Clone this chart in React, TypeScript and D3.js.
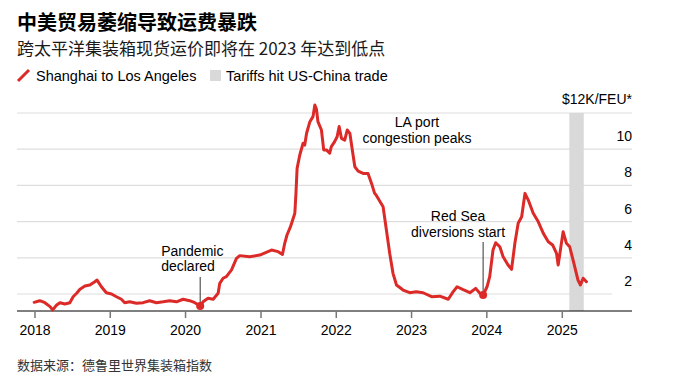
import React from "react";
import * as d3 from "d3";

// Drewry WCI Shanghai -> Los Angeles, $K per 40ft container
const weeks = [
  "2017-12-28", "2018-01-24", "2018-02-18", "2018-03-15", "2018-03-28", "2018-04-16",
  "2018-05-02", "2018-05-26", "2018-06-19", "2018-07-05", "2018-07-22", "2018-08-07",
  "2018-08-31", "2018-09-24", "2018-10-18", "2018-10-29", "2018-11-19", "2018-12-13",
  "2019-01-07", "2019-01-31", "2019-02-24", "2019-03-12", "2019-04-05", "2019-05-08",
  "2019-06-09", "2019-07-11", "2019-08-13", "2019-09-14", "2019-10-16", "2019-11-18",
  "2019-12-20", "2020-01-21", "2020-02-15", "2020-03-12", "2020-03-26", "2020-04-19",
  "2020-05-14", "2020-06-07", "2020-06-15", "2020-07-01", "2020-07-17", "2020-08-11",
  "2020-09-04", "2020-09-20", "2020-11-07", "2020-12-26", "2021-02-21", "2021-03-25",
  "2021-04-15", "2021-04-26", "2021-05-07", "2021-05-24", "2021-06-14", "2021-06-19",
  "2021-06-25", "2021-07-08", "2021-07-24", "2021-08-01", "2021-08-10", "2021-08-26",
  "2021-09-10", "2021-09-19", "2021-09-27", "2021-10-04", "2021-10-21", "2021-11-01",
  "2021-11-14", "2021-11-30", "2021-12-08", "2021-12-24", "2022-01-05", "2022-01-15",
  "2022-01-26", "2022-02-11", "2022-02-23", "2022-03-08", "2022-03-21", "2022-04-01",
  "2022-04-17", "2022-05-11", "2022-06-04", "2022-06-21", "2022-07-06", "2022-07-13",
  "2022-08-16", "2022-09-01", "2022-09-17", "2022-10-03", "2022-10-20", "2022-11-21",
  "2022-12-23", "2023-01-24", "2023-02-26", "2023-04-08", "2023-05-18", "2023-06-28",
  "2023-07-22", "2023-08-10", "2023-09-08", "2023-10-11", "2023-11-08", "2023-11-28",
  "2023-12-14", "2024-01-02", "2024-01-15", "2024-01-31", "2024-02-13", "2024-03-04",
  "2024-03-20", "2024-04-13", "2024-04-30", "2024-05-16", "2024-06-01", "2024-06-18",
  "2024-07-04", "2024-07-20", "2024-08-13", "2024-09-06", "2024-10-01", "2024-10-25",
  "2024-11-15", "2024-12-04", "2024-12-12", "2024-12-24", "2025-01-05", "2025-01-21",
  "2025-02-06", "2025-02-26", "2025-03-18", "2025-03-30", "2025-04-12", "2025-04-28",
];
const rates = [
  1.54, 1.63, 1.52, 1.3, 1.12, 1.39,
  1.52, 1.45, 1.52, 1.85, 2.04, 2.26,
  2.44, 2.5, 2.68, 2.77, 2.4, 2.07,
  2.0, 1.85, 1.71, 1.52, 1.57, 1.49,
  1.52, 1.63, 1.52, 1.57, 1.63, 1.57,
  1.71, 1.63, 1.52, 1.34, 1.57, 1.76,
  1.71, 2.04, 2.59, 2.87, 2.96, 3.33,
  3.97, 4.12, 4.06, 4.15, 4.43, 4.34,
  4.19, 4.8, 5.26, 5.72, 6.46, 7.47,
  8.94, 9.68, 10.33, 10.23, 10.88, 11.52,
  11.8, 12.44, 12.2, 11.52, 11.06, 9.96,
  9.96, 9.78, 10.14, 10.42, 10.69, 11.25,
  10.6, 10.5, 11.06, 10.87, 9.86, 9.03,
  8.79, 8.66, 8.66, 8.11, 7.56, 7.47,
  6.82, 5.54, 4.25, 3.14, 2.5, 2.22,
  2.07, 2.13, 2.07, 1.85, 1.88, 1.71,
  2.13, 2.4, 2.24, 2.07, 2.31, 2.04,
  1.94, 2.4, 2.96, 4.43, 4.83, 4.61,
  4.06, 3.6, 3.36, 4.8, 5.91, 6.27,
  7.56, 7.19, 6.46, 6.0, 5.35, 4.89,
  4.71, 4.25, 3.6, 4.52, 5.44, 4.8,
  4.61, 3.7, 2.77, 2.5, 2.87, 2.68,
];

const years = [2018, 2019, 2020, 2021, 2022, 2023, 2024, 2025];
const yTicks = [2, 4, 6, 8, 10, 12];
const tariffSpan = ["2025-02-04", "2025-04-15"];
const pandemicDate = "2020-03-12";
const redSeaDate = "2023-12-14";

const W = 673;
const H = 384;
const LEFT = 17;
const RIGHT = 632;
const BASE = 311;
const RED = "#dc2a28";
const latin = "'Liberation Sans', Arial, Helvetica, sans-serif";
const cjk = "'Noto Sans CJK SC', 'Liberation Sans', sans-serif";

const parse = d3.timeParse("%Y-%m-%d");

const App = () => {
  const data = weeks.map((w, i) => ({ date: parse(w)!, value: rates[i] }));

  const x = d3
    .scaleTime()
    .domain([new Date(2018, 0, 1), new Date(2025, 0, 1)])
    .range([35, 562.3]);
  const y = d3.scaleLinear().domain([2, 12]).range([294, 113]);

  const line = d3
    .line<{ date: Date; value: number }>()
    .x(d => x(d.date))
    .y(d => y(d.value));

  const find = (s: string) => data.find(d => d.date.getTime() === parse(s)!.getTime())!;
  const pand = find(pandemicDate);
  const red = find(redSeaDate);
  const px = x(pand.date);
  const rx = x(red.date);

  return (
    <svg
      width={W}
      height={H}
      style={{ position: "absolute", left: 0, top: 0, background: "#fff" }}
    >
      <text x={LEFT} y={30} fontFamily={cjk} fontWeight={700} fontSize={20} fill="#000">
        中美贸易萎缩导致运费暴跌
      </text>
      <text x={LEFT} y={55} fontFamily={cjk} fontSize={17} fill="#1a1a1a">
        跨太平洋集装箱现货运价即将在 2023 年达到低点
      </text>

      {/* legend */}
      <line x1={18} y1={81} x2={29} y2={70} stroke={RED} strokeWidth={3} />
      <text x={36} y={81} fontFamily={latin} fontSize={14.5} fill="#000">
        Shanghai to Los Angeles
      </text>
      <rect x={210} y={70} width={11} height={11} fill="#d9d9d9" />
      <text x={226} y={81} fontFamily={latin} fontSize={14.5} fill="#000">
        Tariffs hit US-China trade
      </text>

      {/* grid */}
      {yTicks.map(t => (
        <g key={t}>
          <line
            x1={LEFT}
            x2={t === 2 ? 612 : RIGHT}
            y1={y(t)}
            y2={y(t)}
            stroke="#dedede"
            strokeWidth={1.2}
          />
          <text
            x={RIGHT}
            y={t === 12 ? y(t) - 9 : y(t) - 8}
            textAnchor="end"
            fontFamily={latin}
            fontSize={14}
            fill="#000"
          >
            {t === 12 ? "$12K/FEU*" : t}
          </text>
        </g>
      ))}

      <rect
        x={x(parse(tariffSpan[0])!)}
        y={y(12)}
        width={x(parse(tariffSpan[1])!) - x(parse(tariffSpan[0])!)}
        height={BASE - y(12)}
        fill="#d9d9d9"
      />

      {/* x axis */}
      <line x1={LEFT} x2={RIGHT} y1={BASE} y2={BASE} stroke="#000" strokeWidth={1} />
      {years.map(yr => {
        const xx = x(new Date(yr, 0, 1));
        return (
          <g key={yr}>
            <line x1={xx} x2={xx} y1={BASE} y2={BASE + 7} stroke="#777" strokeWidth={1.5} />
            <text
              x={xx}
              y={335}
              textAnchor="middle"
              fontFamily={latin}
              fontSize={14}
              fill="#000"
            >
              {yr}
            </text>
          </g>
        );
      })}

      {/* annotation leaders */}
      <line x1={px} x2={px} y1={277} y2={y(pand.value)} stroke="#333" strokeWidth={1} />
      <line x1={rx} x2={rx} y1={242} y2={y(red.value)} stroke="#333" strokeWidth={1} />

      <path
        d={line(data) ?? ""}
        fill="none"
        stroke={RED}
        strokeWidth={3}
        strokeLinejoin="round"
        strokeLinecap="round"
      />
      <circle cx={px} cy={y(pand.value)} r={4} fill={RED} />
      <circle cx={rx} cy={y(red.value)} r={4} fill={RED} />

      <g fontFamily={latin} fontSize={14} fill="#000">
        <text x={px - 39} y={256}>Pandemic</text>
        <text x={px - 39} y={271}>declared</text>
        <text x={rx - 25} y={221} textAnchor="middle">Red Sea</text>
        <text x={rx - 25} y={237} textAnchor="middle">diversions start</text>
        <text x={417} y={127} textAnchor="middle">LA port</text>
        <text x={417} y={143} textAnchor="middle">congestion peaks</text>
      </g>

      <text x={LEFT} y={370} fontFamily={cjk} fontSize={13} fill="#333">
        数据来源：德鲁里世界集装箱指数
      </text>
    </svg>
  );
};

export default App;
